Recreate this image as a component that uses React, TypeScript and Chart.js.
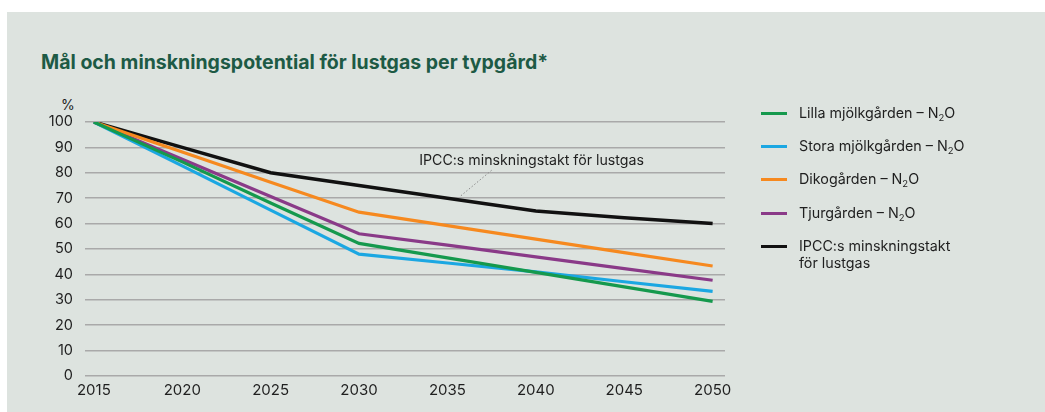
import React, { useEffect, useRef } from "react";
import { Chart, registerables } from "chart.js";

Chart.register(...registerables);

const title = "Mål och minskningspotential för lustgas per typgård*";
const years = [2015, 2020, 2025, 2030, 2035, 2040, 2045, 2050];
const xTicks = [2015, 2020, 2025, 2030, 2035, 2040, 2045, 2050];
const lillaValues = [100, 84.3, 68.1, 52.2, 46.5, 40.8, 35.1, 29.4];
const storaValues = [100, 82.7, 65.3, 48.0, 44.5, 41.0, 37.1, 33.3];
const dikoValues = [100, 88.2, 76.3, 64.5, 59.2, 53.9, 48.6, 43.3];
const tjurValues = [100, 85.3, 70.7, 56.0, 51.5, 46.9, 42.3, 37.7];
const ipccValues = [100, 90, 80, 75, 70, 65, 62.3, 60];
const seriesNames = [
  "Lilla mjölkgården – N2O",
  "Stora mjölkgården – N2O",
  "Dikogården – N2O",
  "Tjurgården – N2O",
  "IPCC:s minskningstakt för lustgas",
];
const seriesColors = ["#15994d", "#1ba7e2", "#f6891f", "#8a3a88", "#111111"];
const annotationText = "IPCC:s minskningstakt för lustgas";

const FONT = "Inter, 'Open Sans', sans-serif";

const annotationPlugin = {
  id: "ipccNote",
  afterDatasetsDraw(chart: any) {
    const { ctx, scales } = chart;
    const xs = scales.x;
    const ys = scales.y;
    ctx.save();
    ctx.strokeStyle = "#8a8a8a";
    ctx.lineWidth = 1;
    ctx.setLineDash([1.5, 2]);
    ctx.beginPath();
    ctx.moveTo(xs.getPixelForValue(2037.5), ys.getPixelForValue(81));
    ctx.lineTo(xs.getPixelForValue(2035.7), ys.getPixelForValue(70.6));
    ctx.stroke();
    ctx.setLineDash([]);
    ctx.fillStyle = "#1f1f1f";
    ctx.font = "14.2px " + FONT;
    ctx.textBaseline = "middle";
    ctx.textAlign = "left";
    ctx.fillText(annotationText, xs.getPixelForValue(2033.4), ys.getPixelForValue(84.6));
    ctx.restore();
  },
};

function LegendLabel({ name }: { name: string }) {
  if (name.endsWith("N2O")) {
    const base = name.slice(0, -3);
    return (
      <span>
        {base}N<sub style={{ fontSize: "9.5px", verticalAlign: "-3px", lineHeight: 0 }}>2</sub>O
      </span>
    );
  }
  if (name.startsWith("IPCC")) {
    return (
      <span>
        IPCC:s minskningstakt
        <br />
        för lustgas
      </span>
    );
  }
  return <span>{name}</span>;
}

export default function App() {
  const canvasRef = useRef<HTMLCanvasElement | null>(null);

  useEffect(() => {
    if (!canvasRef.current) return;
    const valueSets = [lillaValues, storaValues, dikoValues, tjurValues, ipccValues];
    const chart = new Chart(canvasRef.current, {
      type: "line",
      data: {
        datasets: valueSets.map((vals, i) => ({
          label: seriesNames[i],
          data: years.map((y, j) => ({ x: y, y: vals[j] })),
          borderColor: seriesColors[i],
          backgroundColor: seriesColors[i],
          borderWidth: i === 4 ? 3.5 : 3.2,
          pointRadius: 0,
          tension: 0,
          fill: false,
        })),
      },
      options: {
        animation: false,
        responsive: false,
        maintainAspectRatio: false,
        layout: { padding: { left: 0, right: 320, top: 110, bottom: 0 } },
        plugins: {
          legend: { display: false },
          tooltip: { enabled: false },
          title: { display: false },
        },
        scales: {
          x: {
            type: "linear",
            min: 2014.5,
            max: 2050.7,
            grid: { display: false },
            border: { display: false },
            afterBuildTicks: (axis: any) => {
              axis.ticks = xTicks.map((v) => ({ value: v }));
            },
            afterFit: (axis: any) => {
              axis.height = 36;
            },
            ticks: {
              color: "#1f1f1f",
              font: { family: FONT, size: 15 },
              padding: -3,
              maxRotation: 0,
              autoSkip: false,
              callback: (v: any) => String(v),
            },
          },
          y: {
            min: 0,
            max: 100,
            grid: { color: "#a9a9a9", lineWidth: 1.5, drawTicks: false },
            border: { display: false },
            afterFit: (axis: any) => {
              axis.width = 78;
            },
            ticks: {
              stepSize: 10,
              color: "#1f1f1f",
              font: { family: FONT, size: 14.5 },
              padding: 12,
            },
          },
        },
      },
      plugins: [annotationPlugin],
    });
    return () => chart.destroy();
  }, []);

  const rowCenters = [101, 134, 167, 201, 234];

  return (
    <div
      style={{
        position: "absolute",
        left: 7,
        top: 12,
        width: 1038,
        height: 400,
        background: "#dde3df",
        fontFamily: FONT,
        overflow: "hidden",
      }}
    >
      <div
        style={{
          position: "absolute",
          left: 34,
          top: 38,
          fontSize: 19.5,
          lineHeight: "24px",
          fontWeight: 700,
          color: "#1d5a45",
          whiteSpace: "nowrap",
        }}
      >
        {title}
      </div>
      <div
        style={{
          position: "absolute",
          left: 54,
          top: 84,
          fontSize: 14,
          lineHeight: "18px",
          color: "#1f1f1f",
        }}
      >
        %
      </div>
      <canvas ref={canvasRef} width={1038} height={400} style={{ position: "absolute", left: 0, top: 0 }} />
      {seriesNames.map((name, i) => (
        <div key={name}>
          <div
            style={{
              position: "absolute",
              left: 754,
              top: rowCenters[i] - 1.5,
              width: 26,
              height: 3,
              background: seriesColors[i],
            }}
          />
          <div
            style={{
              position: "absolute",
              left: 792,
              top: rowCenters[i] - 9,
              fontSize: 14.3,
              lineHeight: "17px",
              color: "#1f1f1f",
              whiteSpace: "nowrap",
            }}
          >
            <LegendLabel name={name} />
          </div>
        </div>
      ))}
    </div>
  );
}
